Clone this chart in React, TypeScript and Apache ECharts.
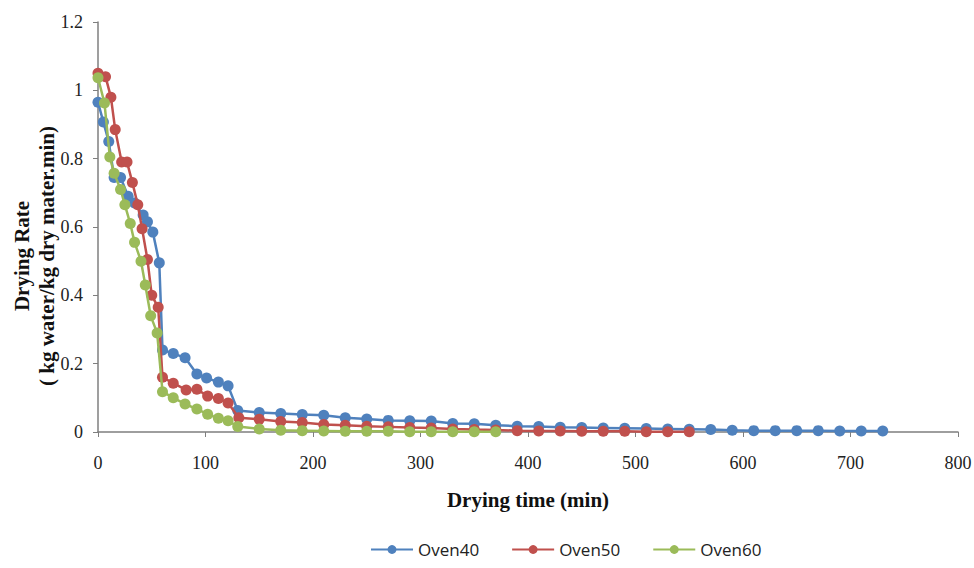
import React, { useEffect, useRef } from "react";
import * as echarts from "echarts";

const seriesNames = ["Oven40", "Oven50", "Oven60"];
const seriesColors = ["#4F81BD", "#C0504D", "#9BBB59"];

const timeOven40 = [0, 5, 10, 15, 21, 28, 34, 42, 46, 51, 57, 60, 70, 81, 92, 101, 112, 121, 130, 150, 170, 190, 210, 230, 250, 270, 290, 310, 330, 350, 370, 390, 410, 430, 450, 470, 490, 510, 530, 550, 570, 590, 610, 630, 650, 670, 690, 710, 730];
const rateOven40 = [0.965, 0.907, 0.85, 0.745, 0.745, 0.69, 0.67, 0.635, 0.615, 0.585, 0.495, 0.24, 0.23, 0.217, 0.17, 0.158, 0.146, 0.135, 0.063, 0.057, 0.054, 0.051, 0.049, 0.042, 0.038, 0.034, 0.033, 0.032, 0.025, 0.024, 0.02, 0.017, 0.016, 0.014, 0.013, 0.012, 0.011, 0.01, 0.009, 0.008, 0.007, 0.005, 0.004, 0.004, 0.004, 0.004, 0.003, 0.003, 0.003];

const timeOven50 = [0, 7, 12, 16, 22, 27, 32, 37, 41, 46, 50, 56, 60, 70, 82, 92, 102, 112, 121, 131, 150, 170, 190, 210, 230, 250, 270, 290, 310, 330, 350, 370, 390, 410, 430, 450, 470, 490, 510, 530, 550];
const rateOven50 = [1.05, 1.04, 0.98, 0.885, 0.79, 0.79, 0.73, 0.665, 0.595, 0.505, 0.4, 0.365, 0.16, 0.143, 0.123, 0.125, 0.105, 0.098, 0.085, 0.042, 0.037, 0.031, 0.028, 0.022, 0.02, 0.017, 0.015, 0.013, 0.012, 0.009, 0.007, 0.006, 0.004, 0.003, 0.003, 0.002, 0.002, 0.002, 0.001, 0.001, 0.001];

const timeOven60 = [0, 6, 11, 15, 21, 25, 30, 34, 40, 44, 49, 55, 60, 70, 81, 92, 102, 112, 121, 130, 150, 170, 190, 210, 230, 250, 270, 290, 310, 330, 350, 370];
const rateOven60 = [1.037, 0.963, 0.805, 0.757, 0.71, 0.665, 0.61, 0.555, 0.5, 0.43, 0.34, 0.29, 0.118, 0.1, 0.082, 0.067, 0.052, 0.04, 0.033, 0.016, 0.009, 0.005, 0.004, 0.003, 0.002, 0.002, 0.002, 0.001, 0.001, 0.001, 0.001, 0.001];

const xTitle = "Drying time (min)";
const yTitle = "Drying Rate\n( kg water/kg dry mater.min)";

const pairs = (t: number[], v: number[]) => t.map((x, i) => [x, v[i]]);

export default function App() {
  const ref = useRef<HTMLDivElement>(null);
  useEffect(() => {
    document.body.style.margin = "0";
    if (!ref.current) return;
    const chart = echarts.init(ref.current, null, { renderer: "svg" });
    const times = [timeOven40, timeOven50, timeOven60];
    const rates = [rateOven40, rateOven50, rateOven60];
    const serif = "'Liberation Serif', 'Times New Roman', serif";
    chart.setOption({
      animation: false,
      backgroundColor: "#ffffff",
      grid: { left: 98, right: 16, top: 22, bottom: 136, containLabel: false, outerBoundsMode: "none" },
      legend: {
        bottom: 5,
        left: 365,
        itemWidth: 42,
        itemHeight: 11,
        itemGap: 32,
        textStyle: { fontFamily: "'Open Sans', 'Liberation Sans', sans-serif", fontSize: 17, color: "#222" },
        data: seriesNames,
      },
      graphic: [
        {
          type: "text",
          x: 34,
          y: 256,
          rotation: Math.PI / 2,
          style: {
            text: yTitle,
            font: "bold 21px " + serif,
            fill: "#111",
            align: "center",
            verticalAlign: "middle",
            lineHeight: 25,
          },
        },
      ],
      xAxis: {
        type: "value",
        min: 0,
        max: 800,
        interval: 100,
        name: xTitle,
        nameLocation: "middle",
        nameGap: 57,
        nameTextStyle: { fontFamily: serif, fontSize: 21, fontWeight: "bold", color: "#111" },
        axisLine: { show: true, lineStyle: { color: "#7f7f7f", width: 1.5 } },
        axisTick: { show: true, length: 5, inside: false, lineStyle: { color: "#7f7f7f" } },
        axisLabel: { fontFamily: serif, fontSize: 18, color: "#222", margin: 22 },
        splitLine: { show: false },
      },
      yAxis: {
        type: "value",
        min: 0,
        max: 1.2,
        interval: 0.2,
        axisLine: { show: true, lineStyle: { color: "#7f7f7f", width: 1.5 } },
        axisTick: { show: true, length: 5, inside: false, lineStyle: { color: "#7f7f7f" } },
        axisLabel: { fontFamily: serif, fontSize: 18, color: "#222", margin: 15 },
        splitLine: { show: false },
      },
      series: seriesNames.map((name, i) => ({
        name,
        type: "line",
        data: pairs(times[i], rates[i]),
        symbol: "circle",
        symbolSize: 11,
        showSymbol: true,
        lineStyle: { color: seriesColors[i], width: 2.5 },
        itemStyle: { color: seriesColors[i] },
        z: 3 + i,
      })),
    });
    return () => chart.dispose();
  }, []);
  return <div ref={ref} style={{ width: 974, height: 568 }} />;
}
